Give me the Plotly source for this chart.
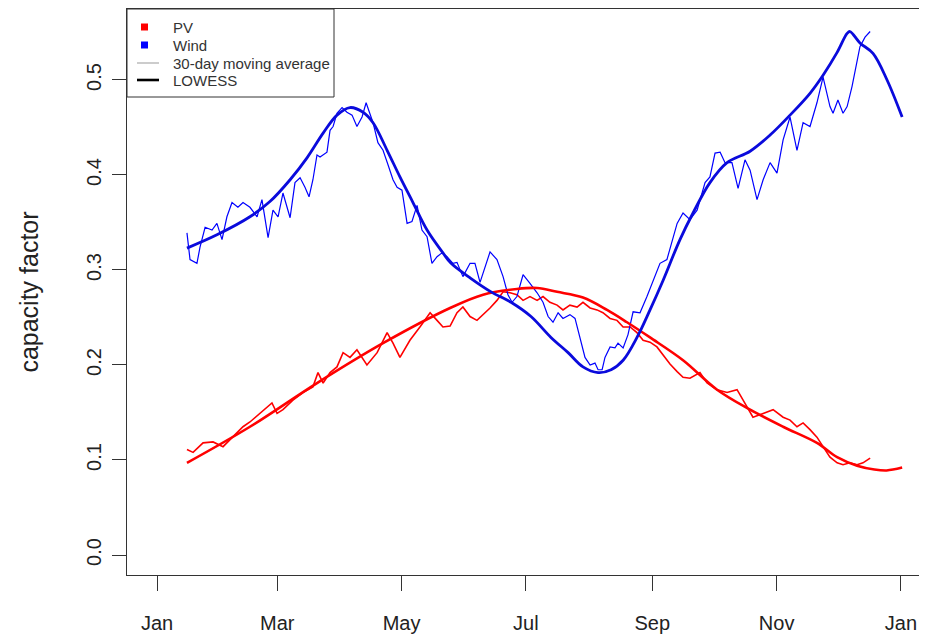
import pandas as pd
import plotly.graph_objects as go

# ---- data (day offset from 1 Jan, capacity factor) ----
wind_ma_day = [14.7, 16.2, 19.6, 21.1, 23.6, 27.0, 29.4, 31.9, 34.3, 36.8, 39.7, 42.2, 45.6, 49.1,
               51.5, 54.5, 56.9, 59.4, 61.8, 65.3, 67.7, 70.2, 72.6, 74.6, 76.5, 78.5, 80.0, 81.5,
               83.4, 84.9, 86.4, 88.3, 90.8, 93.2, 95.7, 98.1, 100.6, 102.6, 104.5, 106.0, 108.4,
               110.9, 113.3, 115.8, 117.8, 120.2, 122.7, 125.1, 127.6, 130.0, 132.5, 134.9, 137.4,
               139.8, 142.3, 145.2, 147.2, 150.1, 153.6, 156.0, 158.5, 163.4, 166.8, 169.8, 172.2,
               174.2, 176.6, 179.6, 183.0, 186.5, 189.4, 191.9, 194.3, 196.8, 199.2, 202.6, 205.1,
               207.6, 210.0, 212.5, 214.9, 216.4, 218.4, 219.8, 222.3, 224.7, 226.2, 228.7, 231.1,
               233.6, 237.0, 240.4, 243.4, 246.8, 250.2, 255.2, 258.1, 261.5, 265.0, 268.9, 271.3,
               273.8, 276.3, 278.7, 282.1, 285.1, 288.5, 291.0, 294.4, 297.4, 300.8, 304.2, 307.2,
               310.6, 314.0, 317.0, 320.4, 323.8, 326.8, 330.2, 331.7, 334.1, 336.6, 338.6, 341.0,
               343.5, 344.9, 347.4, 349.9]
wind_ma_val = [0.339, 0.311, 0.307, 0.324, 0.345, 0.342, 0.349, 0.332, 0.356, 0.371, 0.366, 0.371,
               0.366, 0.356, 0.374, 0.334, 0.363, 0.356, 0.381, 0.355, 0.392, 0.397, 0.387, 0.377,
               0.395, 0.421, 0.419, 0.421, 0.424, 0.447, 0.451, 0.465, 0.471, 0.466, 0.463, 0.451,
               0.461, 0.476, 0.463, 0.455, 0.434, 0.426, 0.411, 0.395, 0.387, 0.384, 0.349, 0.351,
               0.368, 0.342, 0.335, 0.307, 0.314, 0.318, 0.314, 0.307, 0.308, 0.293, 0.307, 0.307,
               0.287, 0.319, 0.311, 0.293, 0.274, 0.266, 0.272, 0.295, 0.286, 0.276, 0.266, 0.251,
               0.245, 0.255, 0.249, 0.253, 0.249, 0.229, 0.208, 0.200, 0.202, 0.195, 0.195, 0.208,
               0.219, 0.218, 0.223, 0.218, 0.232, 0.256, 0.255, 0.272, 0.289, 0.307, 0.311, 0.349,
               0.360, 0.353, 0.363, 0.392, 0.398, 0.423, 0.424, 0.413, 0.413, 0.386, 0.416, 0.405,
               0.374, 0.395, 0.413, 0.402, 0.437, 0.461, 0.426, 0.455, 0.451, 0.476, 0.503, 0.472,
               0.465, 0.479, 0.465, 0.472, 0.493, 0.518, 0.535, 0.545, 0.551]

wind_lowess_day = [14.7, 29.4, 45.6, 55.4, 65.3, 73.6, 81.5, 88.3, 94.7, 101.1, 106.0, 112.9, 119.2,
                   125.6, 132.5, 140.3, 144.3, 154.1, 163.9, 173.7, 183.5, 193.3, 201.7, 209.0,
                   216.4, 222.8, 228.7, 235.5, 241.9, 248.3, 256.6, 263.0, 271.3, 279.7, 291.0,
                   300.8, 310.6, 320.4, 326.8, 333.7, 338.6, 340.0, 344.9, 351.3, 358.2, 365.6]
wind_lowess_val = [0.323, 0.337, 0.356, 0.372, 0.395, 0.418, 0.444, 0.463, 0.471, 0.466, 0.455,
                   0.426, 0.398, 0.371, 0.342, 0.318, 0.307, 0.291, 0.277, 0.266, 0.251, 0.229,
                   0.213, 0.198, 0.192, 0.195, 0.205, 0.229, 0.258, 0.289, 0.332, 0.360, 0.392,
                   0.413, 0.425, 0.442, 0.463, 0.486, 0.505, 0.529, 0.549, 0.551, 0.539, 0.528,
                   0.500, 0.461]

pv_ma_day = [14.7, 17.7, 22.6, 27.5, 32.4, 37.3, 42.2, 45.6, 50.5, 56.4, 58.9, 61.8, 66.7, 71.6,
             76.5, 79.0, 81.5, 84.9, 88.3, 91.3, 94.7, 98.1, 103.0, 108.0, 112.9, 115.8, 119.2,
             124.1, 129.0, 134.0, 137.4, 140.3, 143.8, 147.2, 150.1, 153.6, 157.0, 160.0, 163.4,
             166.8, 169.8, 173.2, 176.6, 179.6, 183.0, 186.5, 189.4, 192.8, 196.3, 199.2, 202.6,
             206.1, 209.0, 212.5, 215.9, 218.8, 222.3, 225.7, 228.7, 232.1, 235.5, 238.5, 241.9,
             245.3, 248.3, 251.7, 255.2, 258.1, 261.5, 266.4, 269.9, 274.8, 279.7, 284.6, 289.5,
             292.4, 297.4, 302.3, 307.2, 310.6, 314.0, 317.0, 320.4, 323.8, 326.8, 330.2, 333.7,
             336.6, 340.0, 343.5, 346.4, 349.9]
pv_ma_val = [0.111, 0.108, 0.118, 0.119, 0.114, 0.124, 0.135, 0.140, 0.149, 0.160, 0.149, 0.153,
             0.163, 0.171, 0.177, 0.192, 0.181, 0.192, 0.198, 0.213, 0.208, 0.216, 0.200, 0.213,
             0.234, 0.223, 0.208, 0.226, 0.240, 0.255, 0.247, 0.240, 0.241, 0.255, 0.261, 0.251,
             0.247, 0.253, 0.260, 0.268, 0.277, 0.276, 0.274, 0.268, 0.272, 0.268, 0.272, 0.266,
             0.263, 0.258, 0.263, 0.261, 0.266, 0.260, 0.258, 0.255, 0.249, 0.247, 0.240, 0.240,
             0.234, 0.226, 0.224, 0.219, 0.211, 0.201, 0.193, 0.187, 0.186, 0.192, 0.181, 0.174,
             0.171, 0.174, 0.156, 0.145, 0.149, 0.153, 0.145, 0.142, 0.135, 0.139, 0.132, 0.124,
             0.114, 0.103, 0.097, 0.095, 0.097, 0.095, 0.097, 0.102]

pv_lowess_day = [14.7, 45.6, 78.5, 110.9, 143.8, 160.0, 176.6, 186.5, 196.3, 209.0, 220.8, 230.6,
                 241.9, 258.1, 274.8, 291.0, 307.2, 323.8, 333.7, 343.5, 352.0, 358.0, 365.6]
pv_lowess_val = [0.097, 0.135, 0.181, 0.223, 0.260, 0.274, 0.280, 0.281, 0.277, 0.271, 0.258,
                 0.245, 0.229, 0.205, 0.174, 0.153, 0.135, 0.118, 0.103, 0.094, 0.090, 0.089, 0.092]

tick_dates = ["2015-01-01", "2015-03-01", "2015-05-01", "2015-07-01", "2015-09-01",
              "2015-11-01", "2016-01-01"]
tick_labels = ["Jan", "Mar", "May", "Jul", "Sep", "Nov", "Jan"]
y_ticks = [0.0, 0.1, 0.2, 0.3, 0.4, 0.5]

legend_labels = ["PV", "Wind", "30-day moving average", "LOWESS"]

origin = pd.Timestamp("2015-01-01")


def to_dates(days):
    return [origin + pd.Timedelta(days=d) for d in days]


FONT = "Liberation Sans, Arial, sans-serif"
TXT = "#222222"
# the page body adds an 8px margin; the figure is sized so it fills the 927x638 window
OFF = 8
W, H = 927 - OFF, 638 - OFF
ML, MR, MT, MB = 127 - OFF, 0, 9 - OFF, 63
PW, PH = W - ML - MR, H - MT - MB

fig = go.Figure()
fig.add_trace(go.Scatter(x=to_dates(pv_ma_day), y=pv_ma_val, mode="lines",
                         line=dict(color="red", width=1.6), showlegend=False))
fig.add_trace(go.Scatter(x=to_dates(wind_ma_day), y=wind_ma_val, mode="lines",
                         line=dict(color="blue", width=1.2), showlegend=False))
fig.add_trace(go.Scatter(x=to_dates(pv_lowess_day), y=pv_lowess_val, mode="lines",
                         line=dict(color="red", width=2.6, shape="spline", smoothing=1.0),
                         showlegend=False))
fig.add_trace(go.Scatter(x=to_dates(wind_lowess_day), y=wind_lowess_val, mode="lines",
                         line=dict(color="#0a0adc", width=2.8, shape="spline", smoothing=1.0),
                         showlegend=False))


# ---- legend box drawn in paper coordinates (window-pixel helpers) ----
def px(xw):
    return (xw - OFF - ML) / PW


def py(yw):
    return (H - MB - (yw - OFF)) / PH


shapes = [
    dict(type="rect", xref="paper", yref="paper", x0=px(127), x1=px(334), y0=py(97), y1=py(9),
         line=dict(color="#333333", width=1), fillcolor="white", layer="above"),
    dict(type="rect", xref="paper", yref="paper", x0=px(141), x1=px(148), y0=py(30.5), y1=py(23.5),
         line=dict(width=0), fillcolor="red", layer="above"),
    dict(type="rect", xref="paper", yref="paper", x0=px(141), x1=px(148), y0=py(48.5), y1=py(41.5),
         line=dict(width=0), fillcolor="blue", layer="above"),
    dict(type="line", xref="paper", yref="paper", x0=px(137), x1=px(159), y0=py(63), y1=py(63),
         line=dict(color="#999999", width=1), layer="above"),
    dict(type="line", xref="paper", yref="paper", x0=px(137), x1=px(159), y0=py(80), y1=py(80),
         line=dict(color="black", width=2.6), layer="above"),
]
annotations = []
for lab, yy in zip(legend_labels, [27, 45, 63, 80]):
    annotations.append(dict(xref="paper", yref="paper", x=px(171), y=py(yy), text=lab,
                            showarrow=False, xanchor="left", yanchor="middle",
                            font=dict(family=FONT, size=15, color="#333333")))

x_left = origin + pd.Timedelta(days=-14.72)
x_right = origin + pd.Timedelta(days=377.8)

fig.update_layout(
    width=W, height=H,
    margin=dict(l=ML, r=MR, t=MT, b=MB, autoexpand=False),
    paper_bgcolor="white", plot_bgcolor="white",
    font=dict(family=FONT, color=TXT, size=20),
    showlegend=False,
    shapes=shapes, annotations=annotations,
    xaxis=dict(type="date", range=[x_left, x_right], automargin=False,
               tickmode="array", tickvals=tick_dates, ticktext=tick_labels,
               ticks="outside", ticklen=15, tickwidth=1, tickcolor="#333333",
               showline=True, linecolor="#333333", linewidth=1, mirror=True,
               showgrid=False, zeroline=False,
               tickfont=dict(size=20, color=TXT), ticklabelstandoff=15),
    yaxis=dict(range=[-0.02105, 0.5747], tickmode="array", tickvals=y_ticks, automargin=False,
               tickformat=".1f", tickangle=-90,
               ticks="outside", ticklen=14, tickwidth=1, tickcolor="#333333",
               showline=True, linecolor="#333333", linewidth=1, mirror=False,
               showgrid=False, zeroline=False,
               tickfont=dict(size=20, color=TXT), ticklabelstandoff=3,
               title=dict(text="capacity factor", font=dict(size=25, color=TXT), standoff=37)),
)

fig.write_html("out.html")
